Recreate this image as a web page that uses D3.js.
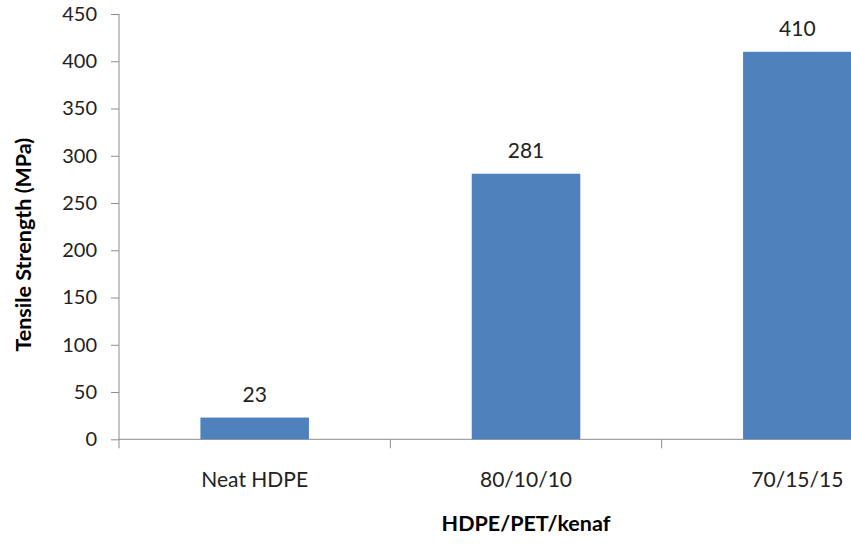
<!DOCTYPE html>
<html>
<head>
<meta charset="utf-8">
<script src="https://cdn.jsdelivr.net/npm/d3@7"></script>
<style>
  html, body { margin: 0; padding: 0; background: #fff; }
  svg { display: block; font-family: Lato, "Open Sans", sans-serif; }
</style>
</head>
<body>
<svg id="chart" width="851" height="546"></svg>
<script>
// Tensile strength by HDPE/PET/kenaf blend ratio
const categories = ["Neat HDPE", "80/10/10", "70/15/15"];
const strength = [23, 281, 410];
const yTicks = [0, 50, 100, 150, 200, 250, 300, 350, 400, 450];

const svg = d3.select("#chart");
const plotLeft = 119, plotRight = 933, plotTop = 14, plotBottom = 439.3;
const axisColor = "#8c8c8c";
const textColor = "#222";

const x = d3.scaleBand()
  .domain(categories)
  .range([plotLeft, plotRight])
  .paddingInner(0.6)
  .paddingOuter(0.3);

const y = d3.scaleLinear().domain([0, 450]).range([plotBottom, plotTop]);

// y axis
const yAxis = svg.append("g")
  .attr("transform", `translate(${plotLeft},0)`)
  .call(d3.axisLeft(y).tickValues(yTicks).tickSize(8).tickPadding(14).tickSizeOuter(0));
yAxis.select(".domain").attr("stroke", axisColor).attr("d", `M0,${plotTop}V${plotBottom + 9}`);
yAxis.selectAll(".tick line").attr("stroke", axisColor);
yAxis.selectAll(".tick text")
  .attr("fill", textColor)
  .style("font-size", "20px")
  .style("font-family", "Lato, sans-serif");

// x axis line with category boundary ticks
const step = x.step();
svg.append("line")
  .attr("x1", plotLeft).attr("x2", plotRight)
  .attr("y1", plotBottom).attr("y2", plotBottom)
  .attr("stroke", axisColor);
svg.selectAll(".cat-tick")
  .data(d3.range(1, categories.length + 1))
  .join("line")
  .attr("class", "cat-tick")
  .attr("x1", i => plotLeft + i * step).attr("x2", i => plotLeft + i * step)
  .attr("y1", plotBottom).attr("y2", plotBottom + 9)
  .attr("stroke", axisColor);

// bars
const data = categories.map((c, i) => ({ c, v: strength[i] }));
svg.selectAll(".bar")
  .data(data)
  .join("rect")
  .attr("class", "bar")
  .attr("x", d => x(d.c))
  .attr("width", x.bandwidth())
  .attr("y", d => y(d.v))
  .attr("height", d => y(0) - y(d.v))
  .attr("fill", "#4f81bd");

// value labels
svg.selectAll(".val")
  .data(data)
  .join("text")
  .attr("class", "val")
  .attr("x", d => x(d.c) + x.bandwidth() / 2)
  .attr("y", d => y(d.v) - 16)
  .attr("text-anchor", "middle")
  .attr("fill", textColor)
  .style("font-size", "21px")
  .text(d => d.v);

// category labels
svg.selectAll(".cat")
  .data(categories)
  .join("text")
  .attr("class", "cat")
  .attr("x", d => x(d) + x.bandwidth() / 2)
  .attr("y", 487)
  .attr("text-anchor", "middle")
  .attr("fill", textColor)
  .style("font-size", "21px")
  .text(d => d);

// axis titles
svg.append("text")
  .attr("x", (plotLeft + plotRight) / 2)
  .attr("y", 531)
  .attr("text-anchor", "middle")
  .attr("fill", "#000")
  .style("font-size", "21.5px")
  .style("font-weight", "bold")
  .text("HDPE/PET/kenaf");

svg.append("text")
  .attr("transform", `translate(31,${(plotTop + plotBottom) / 2 + 18}) rotate(-90)`)
  .attr("text-anchor", "middle")
  .attr("fill", "#000")
  .style("font-size", "21.5px")
  .style("font-weight", "bold")
  .text("Tensile Strength (MPa)");
</script>
</body>
</html>
